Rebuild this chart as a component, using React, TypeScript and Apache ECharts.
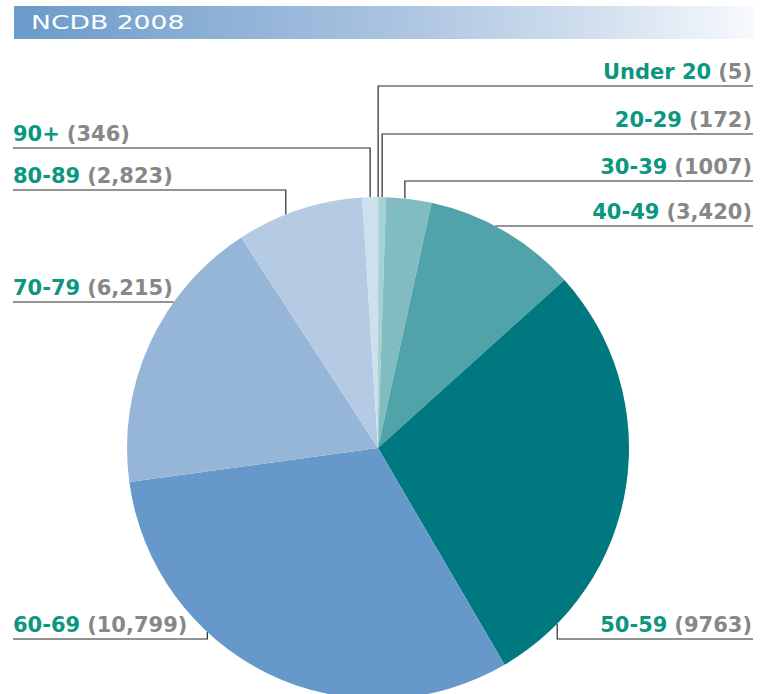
import React, { useEffect, useRef } from "react";
import * as echarts from "echarts";

// ---- data ----
const title = "NCDB 2008";
const categories = ["Under 20", "20-29", "30-39", "40-49", "50-59", "60-69", "70-79", "80-89", "90+"];
const values = [5, 172, 1007, 3420, 9763, 10799, 6215, 2823, 346];
const valueLabels = ["(5)", "(172)", "(1007)", "(3,420)", "(9763)", "(10,799)", "(6,215)", "(2,823)", "(346)"];

// ---- style / layout ----
const colors = ["#b9dcdc", "#a6d0d1", "#80bcc2", "#4fa3a9", "#007880", "#6699c9", "#96b6d8", "#b4cbe3", "#cedfee"];
const CX = 378;
const CY = 448;
const R = 251;
const labelSide = ["r", "r", "r", "r", "r", "l", "l", "l", "l"];
const underlineY = [86, 134, 181, 226, 639, 639, 302, 190, 148];
const leaderMode = ["v", "v", "v", "h", "v", "v", "h", "v", "v"];
const anchorFrac = [0.5, 0.5, 0.41, 0.5, 0.85, 0.65, 0.5, 0.39, 0.5];
const RIGHT_X = 753;
const LEFT_X = 13;

const total = values.reduce((a, b) => a + b, 0);
const starts: number[] = [];
{
  let c = 0;
  for (const v of values) {
    starts.push((c / total) * 360);
    c += v;
  }
}
const edge = (deg: number) => {
  const r = (deg * Math.PI) / 180;
  return [CX + R * Math.sin(r), CY - R * Math.cos(r)];
};

export default function App() {
  const ref = useRef<HTMLDivElement>(null);
  useEffect(() => {
    if (!ref.current) return;
    const chart = echarts.init(ref.current, undefined, { renderer: "svg" });
    chart.setOption({
      animation: false,
      graphic: [
        {
          type: "rect",
          shape: { x: 14, y: 6, width: 741, height: 33 },
          style: {
            fill: {
              type: "linear",
              x: 0,
              y: 0,
              x2: 1,
              y2: 0,
              colorStops: [
                { offset: 0, color: "#6a9bca" },
                { offset: 0.5, color: "#a9c2e0" },
                { offset: 0.8, color: "#d4e1ef" },
                { offset: 1, color: "#f8fafd" },
              ],
            },
          },
          silent: true,
        },
        {
          type: "text",
          x: 31,
          y: 22,
          scaleX: 1.4,
          style: {
            text: title,
            fill: "#ffffff",
            fontFamily: "DejaVu Sans",
            fontSize: 19,
            verticalAlign: "middle",
            align: "left",
          },
          silent: true,
        },
      ],
      series: [
        {
          type: "pie",
          center: [CX, CY],
          radius: R,
          startAngle: 90,
          clockwise: true,
          avoidLabelOverlap: false,
          silent: true,
          data: categories.map((name, i) => ({
            name,
            value: values[i],
            itemStyle: { color: colors[i] },
          })),
          label: {
            show: true,
            position: "outside",
            formatter: (p: any) => `{n|${p.name}}{v|${valueLabels[p.dataIndex]}}`,
            rich: {
              n: { color: "#0a967f", fontFamily: "DejaVu Sans", fontWeight: "bold", fontSize: 21 },
              v: {
                color: "#878787",
                fontFamily: "DejaVu Sans",
                fontWeight: "bold",
                fontSize: 21,
                padding: [0, 0, 0, 7],
              },
            },
          },
          labelLine: {
            show: true,
            smooth: false,
            lineStyle: { color: "#2a2a2a", width: 1.2 },
          },
          labelLayout: (params: any) => {
            const i = params.dataIndex;
            const ly = underlineY[i];
            const right = labelSide[i] === "r";
            const endX = right ? RIGHT_X : LEFT_X;
            let p0: number[];
            if (leaderMode[i] === "v") {
              const s = starts[i];
              const e = s + (values[i] / total) * 360;
              p0 = edge(s + anchorFrac[i] * (e - s));
            } else {
              const dx = Math.sqrt(R * R - (ly - CY) * (ly - CY));
              p0 = [right ? CX + dx : CX - dx, ly];
            }
            return {
              x: right ? RIGHT_X - 1 : LEFT_X,
              y: ly - 4,
              align: right ? "right" : "left",
              verticalAlign: "bottom",
              labelLinePoints: [p0, [p0[0], ly], [endX, ly]],
            };
          },
        },
      ],
    });
    return () => chart.dispose();
  }, []);
  return (
    <div
      ref={ref}
      style={{ position: "absolute", left: 0, top: 0, width: 771, height: 694 }}
    />
  );
}
